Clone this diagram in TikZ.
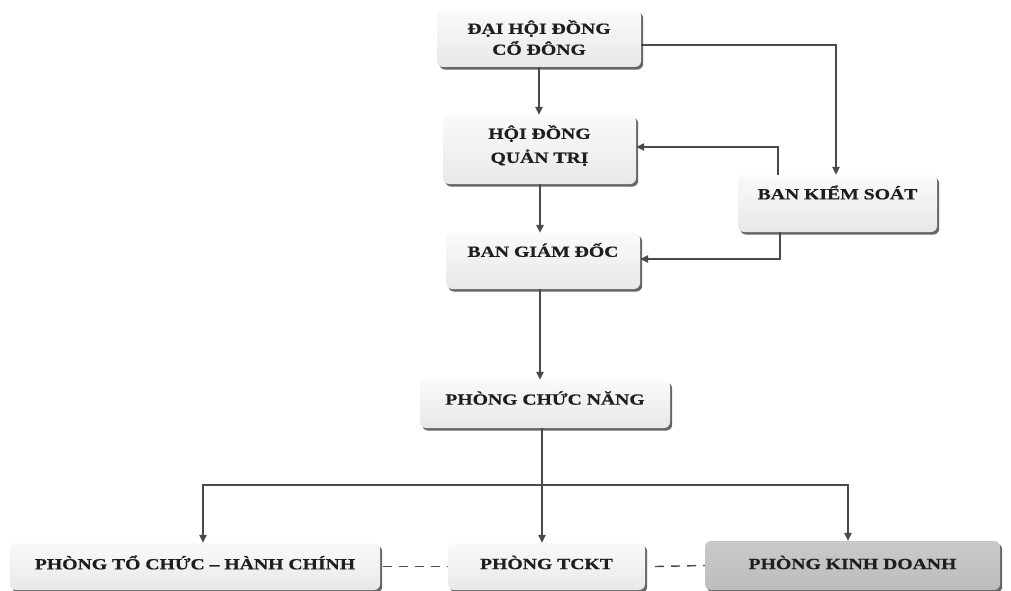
\documentclass[tikz,border=0pt]{standalone}
\usepackage{fontspec}
\setmainfont{Liberation Serif}
\newfontfamily\boxfont{Liberation Serif}[FakeStretch=1.27,FakeBold=0.6]
\usetikzlibrary{arrows.meta,shadows,calc}
\definecolor{linec}{HTML}{4A4A4A}
\definecolor{txtc}{HTML}{1E1E1E}
\tikzset{
  orgbox/.style={rounded corners=6pt, top color=gray!4, bottom color=gray!18,
    draw=none, inner sep=0pt,
    drop shadow={shadow xshift=2.2pt, shadow yshift=-2.6pt, fill=black!60, opacity=1}},
  darkbox/.style={orgbox, top color=gray!42, bottom color=gray!52},
  orgtxt/.style={font=\boxfont\bfseries\fontsize{15.5}{21}\selectfont, text=txtc, align=center, inner sep=0pt},
  arr/.style={draw=linec, line width=1.4pt, -{Triangle[width=7.5pt,length=8pt]}},
  conn/.style={draw=linec, line width=1.4pt},
  dashc/.style={draw=linec, line width=1.4pt, dash pattern=on 9pt off 7pt}
}
\begin{document}
\begin{tikzpicture}[x=1pt,y=-1pt]
\useasboundingbox (0,0) rectangle (1011,591);
% boxes
\node[orgbox, minimum width=204pt, minimum height=57pt] (dh) at (539,38.5) {};
\node[orgtxt] (dht) at ([yshift=1pt]dh.center) {ĐẠI HỘI ĐỒNG\\CỔ ĐÔNG};
\node[orgbox, minimum width=193pt, minimum height=69pt] (hd) at (539.5,149.5) {};
\node[orgtxt, font=\boxfont\bfseries\fontsize{15.5}{24}\selectfont] (hdt) at ([yshift=4pt]hd.center) {HỘI ĐỒNG\\QUẢN TRỊ};
\node[orgbox, minimum width=199pt, minimum height=57pt] (bks) at (837.5,203.5) {};
\node[orgtxt] (bkst) at ([yshift=11pt]bks.center) {BAN KIỂM SOÁT};
\node[orgbox, minimum width=194pt, minimum height=56pt] (bgd) at (543,261) {};
\node[orgtxt] (bgdt) at ([yshift=11pt]bgd.center) {BAN GIÁM ĐỐC};
\node[orgbox, minimum width=250pt, minimum height=48pt] (pcn) at (545,404) {};
\node[orgtxt] (pcnt) at ([yshift=6pt]pcn.center) {PHÒNG CHỨC NĂNG};
\node[orgbox, minimum width=370pt, minimum height=47pt] (ptc) at (195,566.5) {};
\node[orgtxt] (ptct) at ([yshift=4pt]ptc.center) {PHÒNG TỔ CHỨC – HÀNH CHÍNH};
\node[orgbox, minimum width=197pt, minimum height=47pt] (tckt) at (546.5,566.5) {};
\node[orgtxt] (tcktt) at ([yshift=4pt]tckt.center) {PHÒNG TCKT};
\node[darkbox, minimum width=295pt, minimum height=49pt] (pkd) at (852.5,565.5) {};
\node[orgtxt] (pkdt) at ([yshift=3pt]pkd.center) {PHÒNG KINH DOANH};
% connectors
\draw[arr] (dh.south) -- (dh.south |- hd.north);
\draw[arr] ([yshift=-6.5pt]dh.east) -| ([xshift=-1.5pt]bks.north);
\draw[arr] ([xshift=-59.5pt]bks.north) |- ([yshift=2.5pt]hd.east);
\draw[arr] ([xshift=0.5pt]hd.south) -- ([xshift=0.5pt]hd.south |- bgd.north);
\draw[arr] ([xshift=-57.5pt]bks.south) |- ([yshift=2pt]bgd.east);
\draw[arr] ([xshift=-3pt]bgd.south) -- ([xshift=-3pt]bgd.south |- pcn.north);
\coordinate (hub) at ([xshift=-3pt]pcn.south |- 0,485);
\draw[conn] ([xshift=-3pt]pcn.south) -- (hub);
\draw[arr] (hub) -- (hub |- tckt.north);
\draw[arr] (hub) -| ([xshift=8pt]ptc.north);
\draw[arr] (hub) -| ([xshift=-4.5pt]pkd.north);
\draw[dashc] ([xshift=3pt]ptc.east) -- (tckt.west);
\draw[dashc] ([xshift=10pt]tckt.east) -- (pkd.west);
\end{tikzpicture}
\end{document}
